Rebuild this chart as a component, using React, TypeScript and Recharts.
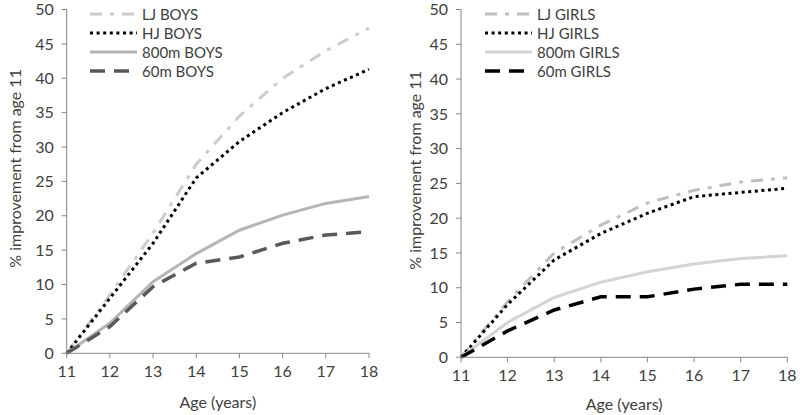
import { Legend, Line, LineChart, XAxis, YAxis } from "recharts";

const AGES = [11, 12, 13, 14, 15, 16, 17, 18];
const AGE_TICKS = [11, 12, 13, 14, 15, 16, 17, 18];
const Y_TICKS = [0, 5, 10, 15, 20, 25, 30, 35, 40, 45, 50];

const LJ_BOYS = [0, 8.5, 17.5, 27.5, 34.5, 40, 44, 47.3];
const HJ_BOYS = [0, 8, 16, 25.5, 30.8, 35, 38.5, 41.3];
const M800_BOYS = [0, 4.4, 10.4, 14.5, 17.9, 20.1, 21.8, 22.8];
const M60_BOYS = [0, 3.9, 9.7, 13.1, 14.0, 16.0, 17.2, 17.7];

const LJ_GIRLS = [0, 8, 15, 19, 22.2, 24, 25.2, 25.8];
const HJ_GIRLS = [0, 7.6, 14, 17.8, 20.7, 23.1, 23.7, 24.3];
const M800_GIRLS = [0, 5.0, 8.6, 10.8, 12.3, 13.4, 14.2, 14.6];
const M60_GIRLS = [0, 3.8, 6.8, 8.7, 8.7, 9.8, 10.5, 10.5];

const FONT = "Lato, 'Open Sans', sans-serif";
const TEXT = "#404040";
const AXIS = "#868686";

type Series = {
  key: string;
  name: string;
  values: number[];
  color: string;
  dash?: string;
  width: number;
};

const BOYS: Series[] = [
  { key: "lj", name: "LJ BOYS", values: LJ_BOYS, color: "#cccccc", dash: "12 8 4 8", width: 3 },
  { key: "hj", name: "HJ BOYS", values: HJ_BOYS, color: "#000000", dash: "3 3.6", width: 3 },
  { key: "m800", name: "800m BOYS", values: M800_BOYS, color: "#b5b5b5", width: 3 },
  { key: "m60", name: "60m BOYS", values: M60_BOYS, color: "#595959", dash: "15 9", width: 3.5 },
];

const GIRLS: Series[] = [
  { key: "lj", name: "LJ GIRLS", values: LJ_GIRLS, color: "#bfbfbf", dash: "12 8 4 8", width: 3 },
  { key: "hj", name: "HJ GIRLS", values: HJ_GIRLS, color: "#000000", dash: "3 3.6", width: 3 },
  { key: "m800", name: "800m GIRLS", values: M800_GIRLS, color: "#d4d4d4", width: 3 },
  { key: "m60", name: "60m GIRLS", values: M60_GIRLS, color: "#000000", dash: "15 9", width: 3.5 },
];

type PanelProps = {
  series: Series[];
  left: number;
  axisWidth: number;
  marginRight: number;
  bottom: number;
  legendLeft: number;
};

function LegendBox({ series }: { series: Series[] }) {
  return (
    <div style={{ fontFamily: FONT, fontSize: 15, color: TEXT }}>
      {series.map((s) => (
        <div key={s.key} style={{ display: "flex", alignItems: "center", height: 19 }}>
          <svg width={48} height={8} style={{ marginRight: 4 }}>
            <line
              x1={0}
              y1={4}
              x2={47}
              y2={4}
              stroke={s.color}
              strokeWidth={s.width}
              strokeDasharray={s.dash}
            />
          </svg>
          <span>{s.name}</span>
        </div>
      ))}
    </div>
  );
}

function Panel({ series, left, axisWidth, marginRight, bottom, legendLeft }: PanelProps) {
  const data = AGES.map((age, i) => {
    const row: Record<string, number> = { age };
    for (const s of series) {
      row[s.key] = s.values[i];
    }
    return row;
  });

  return (
    <div style={{ position: "absolute", left, top: 0 }}>
      <LineChart
        width={400}
        height={415}
        data={data}
        margin={{ top: 9.5, right: marginRight, left: 0, bottom: 0 }}
      >
        <XAxis
          dataKey="age"
          type="number"
          domain={[11, 18]}
          ticks={AGE_TICKS}
          height={415 - bottom}
          stroke={AXIS}
          tickSize={5}
          tickMargin={7}
          tick={{ fill: TEXT, fontSize: 16, fontFamily: FONT }}
          label={{
            value: "Age (years)",
            position: "center",
            dy: 18,
            style: { fill: TEXT, fontSize: 16, fontFamily: FONT },
          }}
        />
        <YAxis
          domain={[0, 50]}
          ticks={Y_TICKS}
          width={axisWidth}
          stroke={AXIS}
          tickSize={5}
          tickMargin={8}
          tick={{ fill: TEXT, fontSize: 16, fontFamily: FONT }}
          label={{
            value: "% improvement from age 11",
            angle: -90,
            position: "center",
            dx: 15 - axisWidth / 2,
            dy: -13,
            style: { fill: TEXT, fontSize: 16, fontFamily: FONT },
          }}
        />
        <Legend
          layout="vertical"
          align="center"
          verticalAlign="middle"
          wrapperStyle={{ left: legendLeft, top: 4, width: "auto" }}
          content={() => <LegendBox series={series} />}
        />
        {series.map((s) => (
          <Line
            key={s.key}
            dataKey={s.key}
            name={s.name}
            type="linear"
            stroke={s.color}
            strokeWidth={s.width}
            strokeDasharray={s.dash}
            dot={false}
            activeDot={false}
            isAnimationActive={false}
          />
        ))}
      </LineChart>
    </div>
  );
}

export default function App() {
  return (
    <div style={{ position: "absolute", left: 0, top: 0, width: 800, height: 415, background: "#fff" }}>
      <Panel series={BOYS} left={0} axisWidth={66.7} marginRight={31} bottom={353.3} legendLeft={90} />
      <Panel series={GIRLS} left={400} axisWidth={61} marginRight={12.7} bottom={357.3} legendLeft={85} />
    </div>
  );
}
